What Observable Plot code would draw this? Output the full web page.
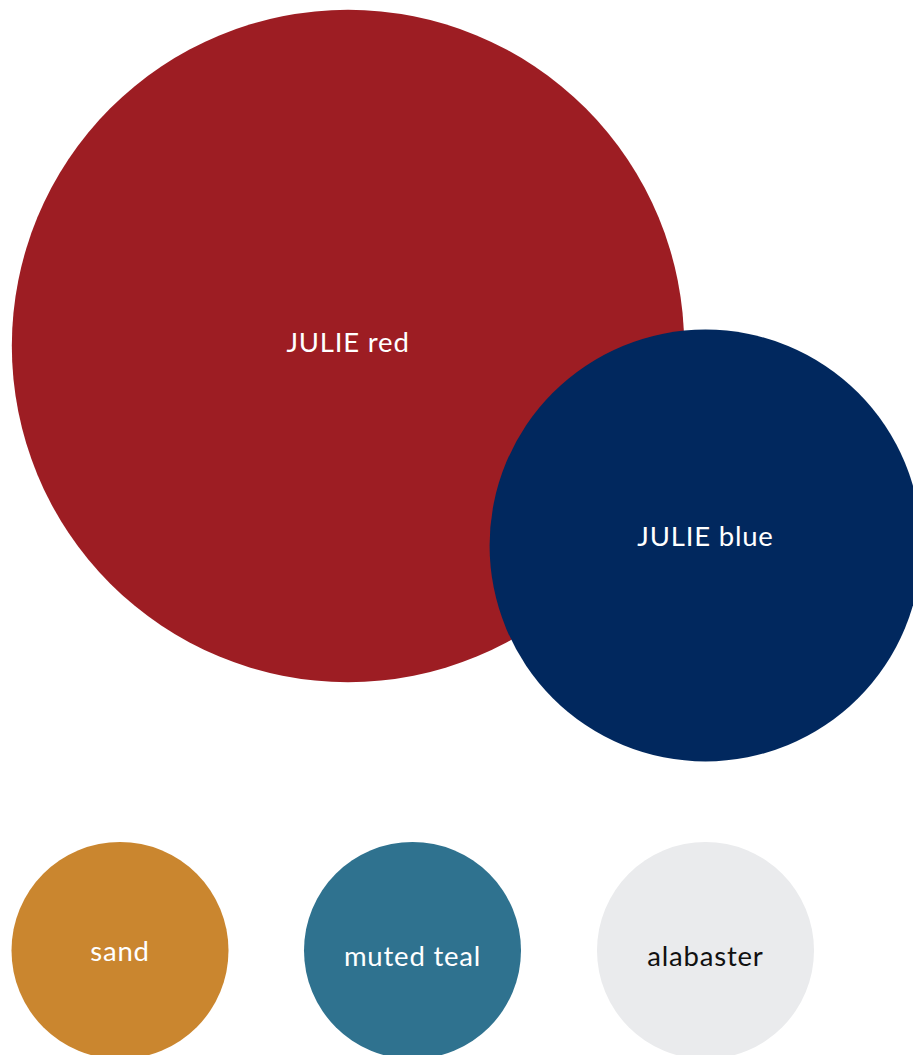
<!DOCTYPE html>
<html>
<head>
<meta charset="utf-8">
<script src="https://cdn.jsdelivr.net/npm/d3@7"></script>
<script src="https://cdn.jsdelivr.net/npm/@observablehq/plot@0.6"></script>
<style>
  html, body { margin: 0; padding: 0; background: #fff; }
  #chart svg { display: block; }
  #chart text { letter-spacing: 0.8px; }
</style>
</head>
<body>
<div id="chart"></div>
<script>
// Palette swatches
const names   = ["JULIE red", "JULIE blue", "sand", "muted teal", "alabaster"];
const hexes   = ["#9D1D23", "#01285E", "#CA862F", "#2F728F", "#EAEBED"];
const weights = [9.6, 3.96, 1, 1, 1];          // relative swatch area
const labelInk = ["#ffffff", "#ffffff", "#ffffff", "#ffffff", "#111111"];
// layout coordinates (in layout units)
const layoutX = [347.5, 705, 119.5, 412, 705];
const layoutY = [345.5, 545, 950, 950, 950];
const labelShift = [-3, -8, 2, 7, 7];

const data = names.map((n, i) => ({
  name: n, hex: hexes[i], weight: weights[i], ink: labelInk[i],
  x: layoutX[i], y: layoutY[i], ly: layoutY[i] + labelShift[i]
}));

const W = 913, H = 1055;
const chart = Plot.plot({
  width: W,
  height: H,
  margin: 0,
  x: {domain: [0, W], range: [0, W], axis: null},
  y: {domain: [0, H], range: [0, H], axis: null},
  r: {type: "sqrt", domain: [0, 1], range: [0, 108.5], clamp: false},
  marks: [
    Plot.dot(data, {x: "x", y: "y", r: "weight", fill: "hex", stroke: null}),
    Plot.text(data, {
      x: "x", y: "ly", text: "name", fill: "ink",
      fontSize: 27.5, fontFamily: "Lato, 'Open Sans', sans-serif", fontWeight: 400,
      textAnchor: "middle", lineAnchor: "middle"
    })
  ]
});
document.getElementById("chart").appendChild(chart);
</script>
</body>
</html>
